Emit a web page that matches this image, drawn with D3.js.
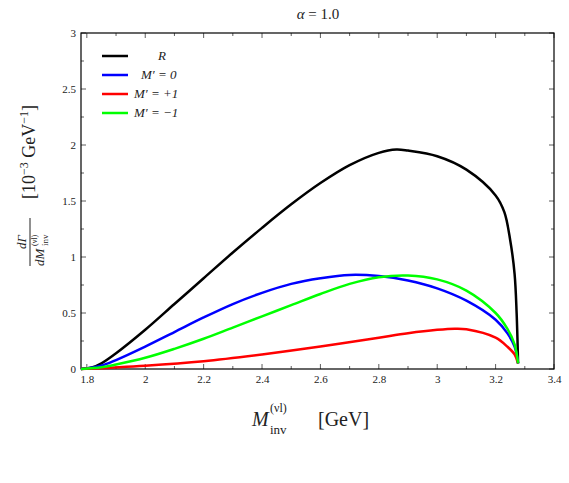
<!DOCTYPE html><html><head><meta charset="utf-8"><script src="https://cdn.jsdelivr.net/npm/d3@7"></script>
<style>body{margin:0;background:#fff}text{font-family:"Liberation Serif",serif;fill:#222}</style></head><body><svg id="c" width="569" height="483"></svg><script>
const xR=[1.78,1.82,1.85,1.9,2.0,2.1,2.2,2.3,2.4,2.5,2.6,2.7,2.8,2.86,2.9,3.0,3.1,3.2,3.23,3.25,3.265,3.272,3.277];
const yR=[0,0.015,0.05,0.14,0.35,0.58,0.81,1.04,1.26,1.47,1.66,1.82,1.93,1.96,1.95,1.9,1.78,1.55,1.4,1.15,0.85,0.5,0.05];
const xB=[1.78,1.85,1.9,2.0,2.1,2.2,2.3,2.4,2.5,2.6,2.7,2.8,2.9,3.0,3.1,3.2,3.24,3.265,3.277];
const yB=[0,0.03,0.08,0.2,0.33,0.46,0.58,0.68,0.76,0.81,0.84,0.83,0.79,0.72,0.61,0.44,0.32,0.2,0.05];
const xG=[1.78,1.85,1.9,2.0,2.1,2.2,2.3,2.4,2.5,2.6,2.7,2.8,2.9,3.0,3.1,3.2,3.24,3.265,3.277];
const yG=[0,0.015,0.04,0.1,0.18,0.27,0.37,0.47,0.57,0.67,0.76,0.82,0.835,0.8,0.7,0.5,0.36,0.22,0.05];
const xP=[1.78,2.0,2.2,2.4,2.6,2.8,2.9,3.0,3.06,3.1,3.2,3.24,3.265,3.277];
const yP=[0,0.03,0.07,0.13,0.2,0.28,0.32,0.35,0.36,0.355,0.28,0.2,0.13,0.05];
const names=["R","M′ = 0","M′ = +1","M′ = −1"];
const colors=["#000","#00f","#f00","#0f0"];
const xTicks=[1.8,2,2.2,2.4,2.6,2.8,3,3.2,3.4], yTicks=[0,0.5,1,1.5,2,2.5,3];
const svg=d3.select("#c");
const x=d3.scaleLinear().domain([1.78,3.4]).range([81,554]);
const y=d3.scaleLinear().domain([0,3]).range([369,33]);
const xm=d3.range(18,35).map(v=>v/10), ym=d3.range(0,13).map(v=>v/4);
const tk=svg.append("g").attr("stroke","#333").attr("stroke-width",0.8);
xm.forEach(v=>{const L=(Math.round(v*10)%2==0)?5:3;
 tk.append("line").attr("x1",x(v)).attr("x2",x(v)).attr("y1",369).attr("y2",369-L);
 tk.append("line").attr("x1",x(v)).attr("x2",x(v)).attr("y1",33).attr("y2",33+L);});
ym.forEach(v=>{const L=(Math.round(v*4)%2==0)?5:3;
 tk.append("line").attr("y1",y(v)).attr("y2",y(v)).attr("x1",81).attr("x2",81+L);
 tk.append("line").attr("y1",y(v)).attr("y2",y(v)).attr("x1",554).attr("x2",554-L);});
svg.append("rect").attr("x",81).attr("y",33).attr("width",473).attr("height",336).attr("fill","none").attr("stroke","#000").attr("stroke-width",1.2);
const gx=svg.append("g").attr("transform","translate(0,369)").call(d3.axisBottom(x).tickValues(xTicks).tickSize(0).tickPadding(6).tickFormat(d=>d3.format("")(+d.toFixed(1))));
gx.select("path").remove();gx.selectAll("text").style("font-size","11px").style("font-family","Liberation Serif");
const gy=svg.append("g").attr("transform","translate(81,0)").call(d3.axisLeft(y).tickValues(yTicks).tickSize(0).tickPadding(5).tickFormat(d=>d3.format("")(d)));
gy.select("path").remove();gy.selectAll("text").style("font-size","11px").style("font-family","Liberation Serif");
const line=d3.line().x(d=>x(d[0])).y(d=>y(d[1])).curve(d3.curveCatmullRom.alpha(0.5));
[[xR,yR],[xB,yB],[xP,yP],[xG,yG]].forEach(([xs,ys],i)=>{
 svg.append("path").datum(xs.map((v,j)=>[v,ys[j]])).attr("d",line).attr("fill","none").attr("stroke",colors[i]).attr("stroke-width",2.5);
});
[0,1,2,3].forEach(i=>{
 const yy=56+i*19;
 svg.append("line").attr("x1",102).attr("x2",128).attr("y1",yy).attr("y2",yy).attr("stroke",colors[i]).attr("stroke-width",2.5);
 svg.append("text").attr("x",i==0?158:(i==1?141:134)).attr("y",yy+4).style("font-size","13px").style("font-style","italic").text(names[i]);
});
svg.append("text").attr("x",318).attr("y",19).attr("text-anchor","middle").style("font-size","15px").html('<tspan font-style="italic">α</tspan> = 1.0');
svg.append("text").attr("x",252).attr("y",426).style("font-size","20px").style("font-style","italic").text("M");
svg.append("text").attr("x",270).attr("y",434).style("font-size","13px").text("inv");
svg.append("text").attr("x",270).attr("y",412).style("font-size","12px").text("(νl)");
svg.append("text").attr("x",318).attr("y",426).style("font-size","20px").text("[GeV]");
const yl=svg.append("g").attr("transform","translate(30,200) rotate(-90)");
yl.append("text").attr("x",-42).attr("y",-4).attr("text-anchor","middle").style("font-size","13px").style("font-style","italic").text("dΓ");
yl.append("line").attr("x1",-66).attr("x2",-18).attr("y1",0).attr("y2",0).attr("stroke","#222");
yl.append("text").attr("x",-66).attr("y",14).style("font-size","13px").style("font-style","italic").text("dM");
yl.append("text").attr("x",-46).attr("y",18).style("font-size","9px").text("inv");
yl.append("text").attr("x",-46).attr("y",7).style("font-size","8px").text("(νl)");
const un=yl.append("text").attr("x",48).attr("y",5).attr("text-anchor","middle").style("font-size","18px");
un.append("tspan").text("[10");un.append("tspan").attr("dy",-7).style("font-size","12px").text("−3");
un.append("tspan").attr("dy",7).text(" GeV");un.append("tspan").attr("dy",-7).style("font-size","12px").text("−1");
un.append("tspan").attr("dy",7).text("]");
</script></body></html>
